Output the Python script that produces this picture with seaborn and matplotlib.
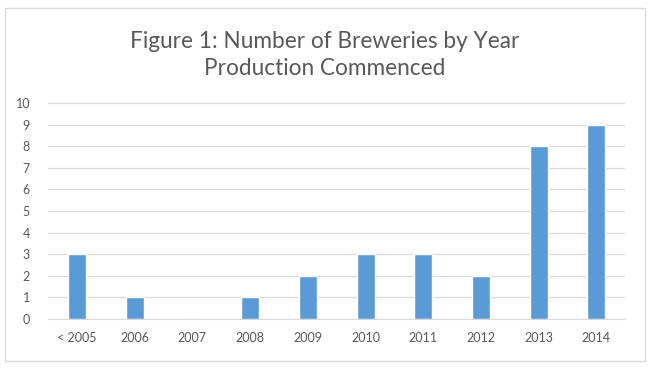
import numpy as np
import pandas as pd
import matplotlib
matplotlib.use("Agg")
import matplotlib.pyplot as plt
from matplotlib.patches import Rectangle
import seaborn as sns

# %% DATA
years = ["< 2005", "2006", "2007", "2008", "2009", "2010", "2011", "2012", "2013", "2014"]
breweries = [3, 1, 0, 1, 2, 3, 3, 2, 8, 9]

df = pd.DataFrame({"year": years, "count": breweries})

# %% PLOT
sns.set_style("white")
plt.rcParams["font.family"] = ["Lato", "DejaVu Sans"]

fig = plt.figure(figsize=(6.5, 3.69), dpi=100)
ax = fig.add_axes([0.074, 0.1355, 0.888, 0.5855])

sns.barplot(data=df, x="year", y="count", color="#5B9BD5", width=0.31,
            saturation=1, ax=ax, zorder=3)

ax.set_ylim(0, 10)
ax.set_yticks(range(0, 11))
ax.set_xlim(-0.5, len(years) - 0.5)
ax.grid(axis="y", color="#D9D9D9", linewidth=0.9, zorder=0)
ax.set_xlabel("")
ax.set_ylabel("")
for s in ["top", "right", "left"]:
    ax.spines[s].set_visible(False)
ax.spines["bottom"].set_color("#D9D9D9")
ax.tick_params(axis="both", length=0, labelsize=9, colors="#595959")
ax.tick_params(axis="x", pad=9)
ax.tick_params(axis="y", pad=13)

fig.text(0.5, 0.852, "Figure 1: Number of Breweries by Year\nProduction Commenced",
         ha="center", va="center", fontsize=16.3, color="#595959", linespacing=1.35)

fig.patches.append(Rectangle((5 / 650, 8 / 369), 640 / 650, 353 / 369,
                             transform=fig.transFigure, fill=False,
                             edgecolor="#D9D9D9", linewidth=1))

fig.savefig("out.png", dpi=100, facecolor="white")
